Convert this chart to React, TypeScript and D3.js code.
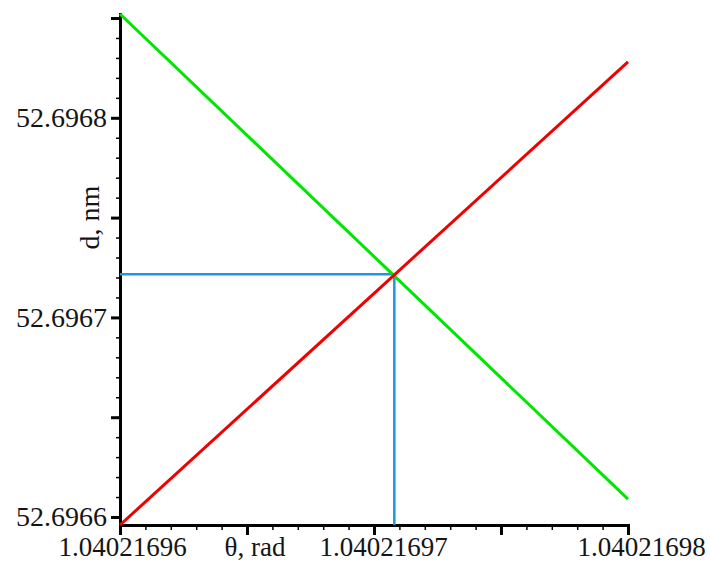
import { useEffect, useRef } from 'react';
import * as d3 from 'd3';

// data
const thetaTicks = [1.04021696, 1.04021697, 1.04021698];
const dTicks = [52.6966, 52.6967, 52.6968];
const thetaEnds = [1.04021696, 1.04021698];
const greenD = [52.696852, 52.696609];
const redD = [52.696596, 52.696828];
const crossTheta = 1.0402169708;
const crossD = 52.6967216;

const FONT = '"Liberation Serif", "Times New Roman", serif';

const App = () => {
  const svgRef = useRef<SVGSVGElement | null>(null);

  useEffect(() => {
    const svg = d3.select(svgRef.current);
    svg.selectAll('*').remove();

    const x = d3.scaleLinear().domain([1.04021696, 1.04021698]).range([120, 628]);
    const y = d3.scaleLinear().domain([52.696596, 52.696852]).range([525, 14]);

    const xMinor = d3.range(0, 21).map(i => 1.04021696 + i * 1e-9);
    const xMajor = d3.range(0, 5).map(i => 1.04021696 + i * 5e-9);
    const yMinor = d3.range(0, 26).map(i => 52.6966 + i * 1e-5);
    const yMajor = d3.range(0, 6).map(i => 52.6966 + i * 5e-5);

    // x axis: minor ticks, major ticks, labels
    const gx = svg.append('g').attr('transform', `translate(0,${y.range()[0]})`);
    gx.append('g')
      .call(d3.axisBottom(x).tickValues(xMinor).tickSize(5).tickSizeOuter(0).tickFormat(() => ''))
      .call(g => g.selectAll('line').attr('stroke-width', 1.5))
      .call(g => g.select('.domain').remove());
    gx.append('g')
      .call(d3.axisBottom(x).tickValues(xMajor).tickSize(10).tickSizeOuter(0).tickFormat(() => ''))
      .call(g => g.selectAll('line').attr('stroke-width', 3))
      .call(g => g.select('.domain').attr('stroke-width', 3).attr('stroke-linecap', 'square'));
    gx.append('g')
      .call(d3.axisBottom(x).tickValues(thetaTicks).tickSize(10).tickPadding(3).tickSizeOuter(0)
        .tickFormat(d => d3.format('.8f')(d as number)))
      .call(g => g.select('.domain').remove())
      .call(g => g.selectAll('line').remove())
      .call(g => g.selectAll('text')
        .attr('font-family', FONT)
        .attr('font-size', 27)
        .attr('fill', '#151515')
        .attr('dy', 18)
        .attr('dx', (_d, i) => [2, 9, 13][i]));

    // y axis
    const gy = svg.append('g').attr('transform', `translate(${x.range()[0]},0)`);
    gy.append('g')
      .call(d3.axisLeft(y).tickValues(yMinor).tickSize(4).tickSizeOuter(0).tickFormat(() => ''))
      .call(g => g.selectAll('line').attr('stroke-width', 1.5))
      .call(g => g.select('.domain').remove());
    gy.append('g')
      .call(d3.axisLeft(y).tickValues(yMajor).tickSize(9).tickSizeOuter(0).tickFormat(() => ''))
      .call(g => g.selectAll('line').attr('stroke-width', 3))
      .call(g => g.select('.domain').attr('stroke-width', 3).attr('stroke-linecap', 'square'));
    gy.append('g')
      .call(d3.axisLeft(y).tickValues(dTicks).tickSize(9).tickPadding(4).tickSizeOuter(0)
        .tickFormat(d => d3.format('.4f')(d as number)))
      .call(g => g.select('.domain').remove())
      .call(g => g.selectAll('line').remove())
      .call(g => g.selectAll('text')
        .attr('font-family', FONT)
        .attr('font-size', 28)
        .attr('fill', '#151515'));

    // axis titles
    svg.append('text')
      .attr('x', 255)
      .attr('y', 556)
      .attr('text-anchor', 'middle')
      .attr('font-family', FONT)
      .attr('font-size', 27)
      .attr('fill', '#151515')
      .text('θ, rad');
    svg.append('text')
      .attr('transform', `translate(99,${y(52.69675)}) rotate(-90)`)
      .attr('text-anchor', 'middle')
      .attr('font-family', FONT)
      .attr('font-size', 28)
      .attr('fill', '#151515')
      .text('d, nm');

    // guide lines to the crossing point
    const guide = d3.line<[number, number]>().x(d => x(d[0])).y(d => y(d[1]));
    svg.append('path')
      .attr('d', guide([
        [thetaEnds[0], crossD],
        [crossTheta, crossD],
        [crossTheta, y.domain()[0]],
      ]))
      .attr('fill', 'none')
      .attr('stroke', '#1c98e0')
      .attr('stroke-width', 2.5);

    const line = d3.line<number>().x((_d, i) => x(thetaEnds[i])).y(d => y(d));
    svg.append('path')
      .attr('d', line(greenD))
      .attr('fill', 'none')
      .attr('stroke', '#00e600')
      .attr('stroke-width', 3);
    svg.append('path')
      .attr('d', line(redD))
      .attr('fill', 'none')
      .attr('stroke', '#f00000')
      .attr('stroke-width', 3);
  }, []);

  return (
    <svg
      ref={svgRef}
      width={710}
      height={563}
      style={{ position: 'absolute', left: 0, top: 0, background: '#fff' }}
    />
  );
};

export default App;
